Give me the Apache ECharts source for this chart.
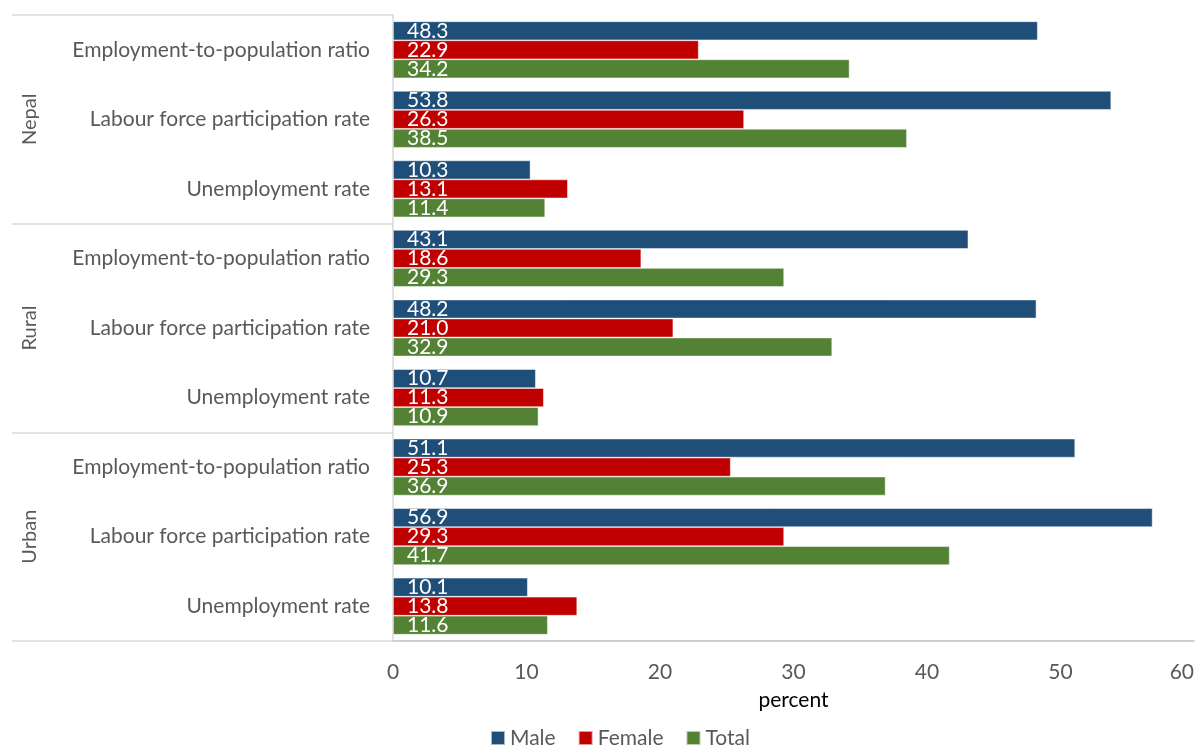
<!DOCTYPE html>
<html>
<head>
<meta charset="utf-8">
<script src="https://cdn.jsdelivr.net/npm/echarts@6/dist/echarts.min.js"></script>
<style>
html,body{margin:0;padding:0;background:#fff;}
#chart{width:1199px;height:746px;}
</style>
</head>
<body>
<div id="chart"></div>
<script>
var groups = ['Nepal', 'Rural', 'Urban'];
var indicators = ['Employment-to-population ratio', 'Labour force participation rate', 'Unemployment rate'];
var seriesNames = ['Male', 'Female', 'Total'];
var male   = [48.3, 53.8, 10.3, 43.1, 48.2, 10.7, 51.1, 56.9, 10.1];
var female = [22.9, 26.3, 13.1, 18.6, 21.0, 11.3, 25.3, 29.3, 13.8];
var total  = [34.2, 38.5, 11.4, 29.3, 32.9, 10.9, 36.9, 41.7, 11.6];
var xTicks = [0, 10, 20, 30, 40, 50, 60];

var categories = [];
groups.forEach(function (g) {
  indicators.forEach(function (ind) { categories.push(g + '|' + ind); });
});

var colors = ['#1F4E79', '#C00000', '#548235'];
var FONT = 'Lato';

function barSeries(name, data, color) {
  return {
    name: name,
    type: 'bar',
    data: data,
    barWidth: 19,
    barGap: '0%',
    itemStyle: { color: color, borderColor: 'rgba(255,255,255,0.6)', borderWidth: 0.8 },
    label: {
      show: true,
      position: 'insideLeft',
      distance: 14,
      color: '#ffffff',
      fontFamily: FONT,
      fontSize: 21,
      formatter: function (p) { return p.value.toFixed(1); }
    }
  };
}

var chart = echarts.init(document.getElementById('chart'));
chart.setOption({
  animation: false,
  color: colors,
  grid: { left: 393, right: 5, top: 15, bottom: 105, containLabel: false, outerBoundsMode: 'none' },
  legend: {
    top: 727,
    padding: 0,
    left: 490,
    itemWidth: 14,
    itemHeight: 14,
    itemGap: 22,
    icon: 'rect',
    textStyle: { fontFamily: FONT, fontSize: 21, color: '#595959', lineHeight: 22 },
    data: seriesNames
  },
  xAxis: {
    type: 'value',
    min: xTicks[0],
    max: xTicks[xTicks.length - 1],
    interval: 10,
    name: 'percent',
    nameLocation: 'middle',
    nameGap: 49,
    nameTextStyle: { fontFamily: FONT, fontSize: 21, color: '#000000' },
    axisLine: { show: true, lineStyle: { color: '#BFBFBF', width: 1.5 } },
    axisTick: { show: false },
    splitLine: { show: false },
    axisLabel: { fontFamily: FONT, fontSize: 21, color: '#595959', margin: 21, alignMaxLabel: 'right' }
  },
  yAxis: [
    {
      type: 'category',
      inverse: true,
      data: categories,
      axisLine: { show: true, lineStyle: { color: '#D9D9D9', width: 1.5 } },
      axisTick: { show: false },
      axisLabel: {
        fontFamily: FONT, fontSize: 21, color: '#595959', margin: 23,
        formatter: function (v) { return v.split('|')[1]; }
      }
    },
    {
      type: 'category',
      inverse: true,
      position: 'left',
      data: groups,
      axisLine: { show: false },
      axisTick: { show: true, length: 381, lineStyle: { color: '#D9D9D9', width: 1.5 } },
      axisLabel: {
        fontFamily: FONT, fontSize: 20, color: '#595959',
        rotate: 90, margin: 353
      }
    }
  ],
  series: [
    barSeries(seriesNames[0], male, colors[0]),
    barSeries(seriesNames[1], female, colors[1]),
    barSeries(seriesNames[2], total, colors[2])
  ]
});
</script>
</body>
</html>
